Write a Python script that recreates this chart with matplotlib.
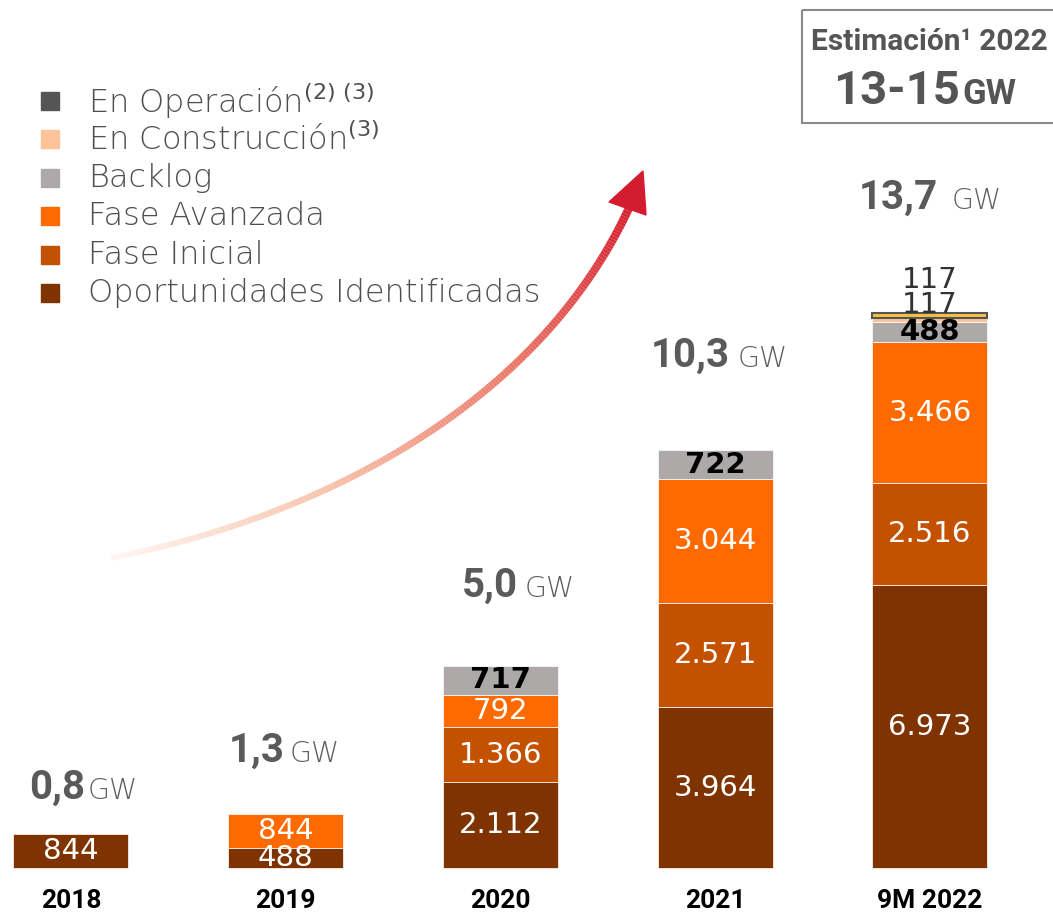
import numpy as np
import matplotlib
matplotlib.use('Agg')
import matplotlib.pyplot as plt
from matplotlib.collections import LineCollection
from matplotlib.colors import LinearSegmentedColormap
from matplotlib.patches import Rectangle, Polygon

plt.rcParams['font.family'] = ['Roboto', 'DejaVu Sans']

# Datos (MW)
anios = ['2018', '2019', '2020', '2021', '9M 2022']
oportunidades = [844, 488, 2112, 3964, 6973]
fase_inicial = [0, 0, 1366, 2571, 2516]
fase_avanzada = [0, 844, 792, 3044, 3466]
backlog = [0, 0, 717, 722, 488]
construccion = [0, 0, 0, 0, 117]
operacion = [0, 0, 0, 0, 117]
totales = ['0,8', '1,3', '5,0', '10,3', '13,7']

series = [
    ('Oportunidades Identificadas', oportunidades, '#7F3300'),
    ('Fase Inicial', fase_inicial, '#C45100'),
    ('Fase Avanzada', fase_avanzada, '#FF6A00'),
    ('Backlog', backlog, '#ADA9A9'),
    ('En Construcción$^{(3)}$', construccion, '#FFC39B'),
    ('En Operación$^{(2)\\ (3)}$', operacion, '#555555'),
]

W, H = 1053, 915
fig = plt.figure(figsize=(W / 100, H / 100), dpi=100)
ax = fig.add_axes([0, 0, 1, 1])
ax.set_xlim(-0.3306, 4.573)
ax.set_ylim(-1158, 21388)
ax.axis('off')

x = np.arange(len(anios))
ancho = 0.5355
base = np.zeros(len(anios))


def fmt(v):
    return f'{v:,}'.replace(',', '.')


for nombre, valores, color in series:
    valores = np.array(valores, dtype=float)
    hay = valores > 0
    if nombre.startswith('En Operación'):
        ax.bar(x[hay], valores[hay], ancho, bottom=base[hay], color='#F6C244',
               edgecolor='#555555', linewidth=1.5, zorder=3)
    else:
        ax.bar(x[hay], valores[hay], ancho, bottom=base[hay], color=color,
               edgecolor='white', linewidth=0.5)
    if nombre in ('Oportunidades Identificadas', 'Fase Inicial', 'Fase Avanzada', 'Backlog'):
        for i, v in enumerate(valores):
            if v <= 0:
                continue
            negro = nombre == 'Backlog'
            ax.text(x[i], base[i] + v / 2, fmt(int(v)), ha='center', va='center',
                    fontsize=21, family='DejaVu Sans',
                    color='black' if negro else 'white',
                    fontweight='bold' if negro else 'normal', zorder=5)
    base += valores

# etiquetas 117 encima de la última barra
tope = base.copy()
ax.annotate(fmt(construccion[-1]), (x[-1], tope[-1]), xytext=(0, 8),
            textcoords='offset pixels', ha='center', va='center',
            fontsize=21, family='DejaVu Sans', color='#333333', zorder=6)
ax.annotate(fmt(operacion[-1]), (x[-1], tope[-1]), xytext=(0, 33),
            textcoords='offset pixels', ha='center', va='center',
            fontsize=21, family='DejaVu Sans', color='#333333', zorder=6)

# totales GW
sep_num = [14, -1, 18, 15, 8]
sep_gw = [17, 4, 24, 22, 22]
hueco = [35, 52, 69, 83, 104]
for i, t in enumerate(totales):
    ax.annotate(t, (x[i], tope[i]), xytext=(sep_num[i], hueco[i]),
                textcoords='offset pixels', ha='right', va='baseline',
                fontsize=29, fontweight='bold', color='#5a5a5a')
    ax.annotate('GW', (x[i], tope[i]), xytext=(sep_gw[i], hueco[i]),
                textcoords='offset pixels', ha='left', va='baseline',
                fontsize=20.5, family='DejaVu Sans', fontweight='light',
                color='#5e5e5e')

# años
for i, a in enumerate(anios):
    ax.annotate(a, (x[i], 0), xytext=(0, -33), textcoords='offset pixels',
                ha='center', va='center', fontsize=19, fontweight='bold',
                color='black')

# capa de decoración en píxeles
ov = fig.add_axes([0, 0, 1, 1], facecolor='none')
ov.set_xlim(0, W)
ov.set_ylim(H, 0)
ov.axis('off')

# leyenda
for k, (nombre, valores, color) in enumerate(reversed(series)):
    yy = 101 + k * 38.4
    ov.add_patch(Rectangle((41, yy - 9), 18, 18, color=color))
    ov.text(88, yy, nombre, ha='left', va='center', fontsize=23,
            family='DejaVu Sans', fontweight='light', color='#4f4f4f')

# flecha con degradado
t = np.linspace(0, 1, 200)
p0, p1, p2, p3 = np.array([111, 558]), np.array([330, 515]), np.array([540, 400]), np.array([629, 208])
curva = ((1 - t) ** 3)[:, None] * p0 + (3 * (1 - t) ** 2 * t)[:, None] * p1 \
    + (3 * (1 - t) * t ** 2)[:, None] * p2 + (t ** 3)[:, None] * p3
segs = np.stack([curva[:-1], curva[1:]], axis=1)
cmap = LinearSegmentedColormap.from_list('flecha', ['#fff6f2', '#f7c3ac', '#ec7d6c', '#d5202f'])
lc = LineCollection(segs, colors=cmap(t[:-1]), linewidths=np.linspace(4, 6, len(segs)),
                    capstyle='butt')
ov.add_collection(lc)
ov.add_patch(Polygon([(643, 171), (609, 202), (646, 215)], closed=True, color='#d31c30'))

# recuadro estimación
ov.add_patch(Rectangle((802, 10), 300, 113, fill=False, edgecolor='#8a8a8a', linewidth=1.5))
ov.text(929, 42, 'Estimación¹ 2022', ha='center', va='center', fontsize=21.5,
        fontweight='bold', color='#555555')
ov.text(960, 104, '13-15', ha='right', va='baseline', fontsize=34,
        fontweight='bold', color='#555555')
ov.text(962, 104, 'GW', ha='left', va='baseline', fontsize=25,
        fontweight='bold', color='#555555')

fig.savefig('out.png', dpi=100)
